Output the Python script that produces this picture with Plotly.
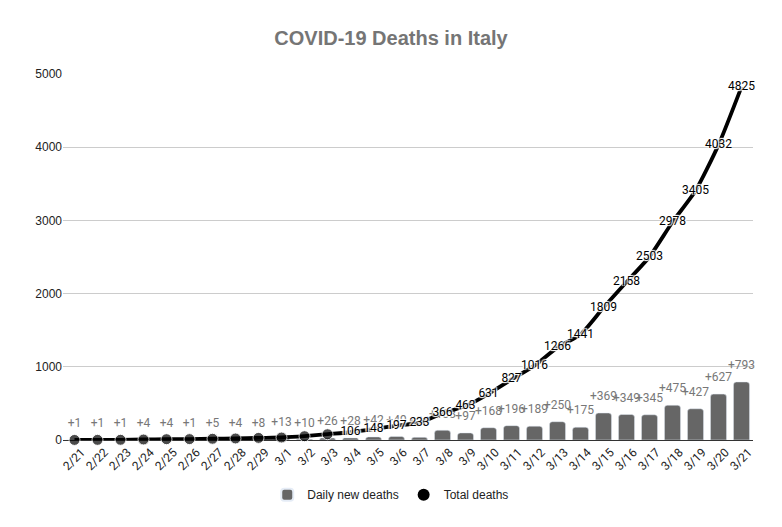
import plotly.graph_objects as go

dates = ["2/21","2/22","2/23","2/24","2/25","2/26","2/27","2/28","2/29","3/1",
         "3/2","3/3","3/4","3/5","3/6","3/7","3/8","3/9","3/10","3/11",
         "3/12","3/13","3/14","3/15","3/16","3/17","3/18","3/19","3/20","3/21"]
daily = [1,1,1,4,4,1,5,4,8,13,10,26,28,42,49,36,133,97,168,196,
         189,250,175,369,349,345,475,427,627,793]
total = [1,2,3,7,11,12,17,21,29,34,52,79,106,148,197,233,366,463,631,827,
         1016,1266,1441,1809,2158,2503,2978,3405,4032,4825]

n_big = 12
marker_sizes = [11 if i < n_big else 0 for i in range(len(total))]
total_text = ["" if i < n_big else str(v) for i, v in enumerate(total)]
daily_text = ["+" + str(v) for v in daily]

fig = go.Figure()
fig.add_trace(go.Bar(
    x=dates, y=daily, name="Daily new deaths",
    marker=dict(color="#666666", cornerradius=3),
    hoverinfo="x+y",
))
fig.add_trace(go.Scatter(
    x=dates, y=daily, mode="markers+text", text=daily_text,
    textposition="top center", cliponaxis=False,
    textfont=dict(family="Roboto", size=12, color="#777777"),
    marker=dict(size=14, color="rgba(0,0,0,0)"),
    showlegend=False, hoverinfo="skip",
))
fig.add_trace(go.Scatter(
    x=dates, y=total, name="Total deaths", mode="lines+markers+text",
    line=dict(color="black", width=3.8, shape="spline", smoothing=0.6),
    marker=dict(size=marker_sizes, color="black"),
    text=total_text, textposition="middle center", cliponaxis=False,
    textfont=dict(family="Roboto", size=12, color="black",
                  shadow="1px 1px 1px white, -1px -1px 1px white, 1px -1px 1px white, -1px 1px 1px white"),
    showlegend=False,
))
# legend-only entry showing the circle symbol
fig.add_trace(go.Scatter(
    x=[None], y=[None], name="Total deaths", mode="markers",
    marker=dict(size=11, color="black"),
))

fig.update_layout(
    width=782, height=527,
    margin=dict(l=63, r=29, t=74, b=87),
    paper_bgcolor="white", plot_bgcolor="white",
    title=dict(text="<b>COVID-19 Deaths in Italy</b>", x=0.5, xanchor="center",
               y=0.928, yanchor="middle", yref="container",
               font=dict(family="Liberation Sans, Arial", size=20, color="#757575")),
    bargap=0.3,
    showlegend=True,
    legend=dict(orientation="h", x=0.475, xanchor="center", y=-0.11, yanchor="top",
                font=dict(family="Liberation Sans, Arial", size=12, color="#222222"),
                itemsizing="constant", traceorder="normal", itemwidth=30),
    xaxis=dict(type="category", range=[-0.5, len(dates) - 0.5], autorange=False,
               tickangle=-45, showgrid=False, showline=False,
               ticks="", automargin=False, ticklabelshift=7, ticklabelstandoff=2,
               tickfont=dict(family="Roboto", size=12, color="#222222")),
    yaxis=dict(range=[0, 5000], tickvals=[0,1000,2000,3000,4000,5000],
               showgrid=True, gridcolor="#cccccc", gridwidth=1,
               zeroline=True, zerolinecolor="#333333", zerolinewidth=1,
               ticks="", ticklen=0, automargin=False,
               tickfont=dict(family="Liberation Sans, Arial", size=12, color="#222222")),
)

fig.write_html("out.html", config={"displayModeBar": False},
               post_script="document.body.style.margin='0px';")
